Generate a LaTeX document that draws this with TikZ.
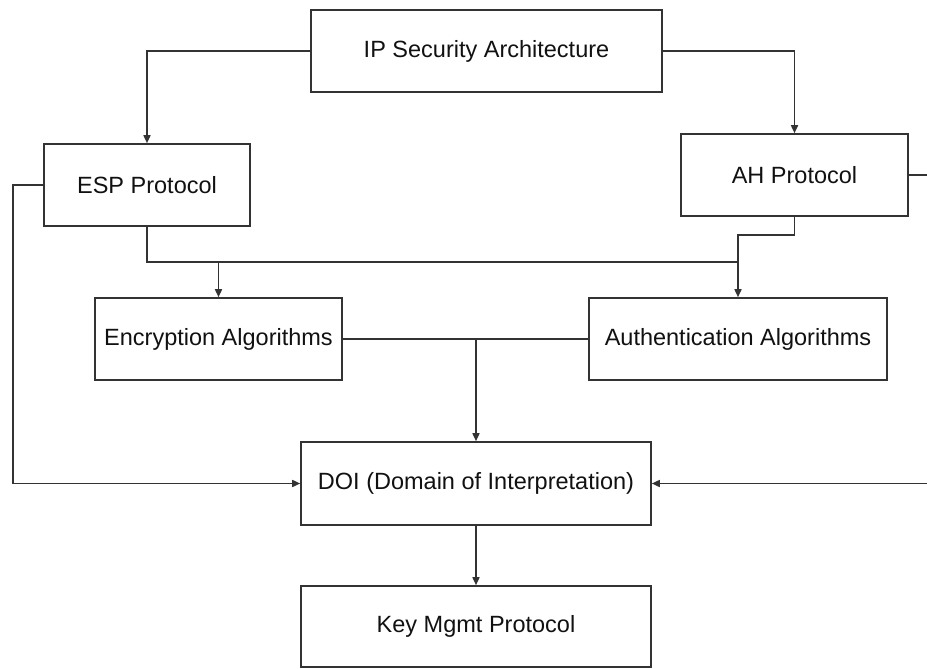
\documentclass[tikz,border=0pt]{standalone}
\usepackage{fontspec}
\setmainfont{Liberation Sans}
\usetikzlibrary{arrows.meta}
\definecolor{linec}{HTML}{333333}
\definecolor{textc}{HTML}{111111}
\begin{document}
\begin{tikzpicture}[x=1pt,y=-1pt,
  box/.style={draw=linec, line width=1.6pt, rectangle, fill=white, text=textc,
    font=\fontsize{23.5}{28}\selectfont, inner sep=0pt, anchor=center},
  conn/.style={draw=linec, line width=1.6pt},
  arr/.style={conn, -{Triangle[length=8pt,width=7pt]}}]
\useasboundingbox (0,0) rectangle (927,669);
\fill[white] (0,0) rectangle (927,669);
\node[box, minimum width=351pt, minimum height=82pt] (ip) at (486.5,51) {IP Security Architecture};
\node[box, minimum width=206pt, minimum height=82pt] (esp) at (147,185) {ESP Protocol};
\node[box, minimum width=227pt, minimum height=82pt] (ah) at (794.5,175) {AH Protocol};
\node[box, minimum width=247pt, minimum height=82pt] (enc) at (218.5,339) {Encryption Algorithms};
\node[box, minimum width=298pt, minimum height=82pt] (auth) at (738,339) {Authentication Algorithms};
\node[box, minimum width=350pt, minimum height=83pt] (doi) at (476,483.5) {DOI (Domain of Interpretation)};
\node[box, minimum width=350pt, minimum height=81pt] (key) at (476,626.5) {Key Mgmt Protocol};
\coordinate (jl) at (218.5,262);
\coordinate (jr) at (738,262);
\coordinate (ahb) at (794.5,235);
\coordinate (jm) at (476,339);
\coordinate (lft) at (13,185);
\coordinate (rt1) at (927,175);
\coordinate (rt2) at (927,483.5);
\draw[arr] (ip.west) -| (esp.north);
\draw[arr] (ip.east) -| (ah.north);
\draw[conn] (esp.south) |- (jr);
\draw[arr] (jl) -- (enc.north);
\draw[arr] (ah.south) -- (ahb) -| (auth.north);
\draw[conn] (enc.east) -- (auth.west);
\draw[arr] (jm) -- (doi.north);
\draw[arr] (esp.west) -- (lft) |- (doi.west);
\draw[conn] (ah.east) -- (rt1);
\draw[arr] (rt2) -- (doi.east);
\draw[arr] (doi.south) -- (key.north);
\end{tikzpicture}
\end{document}
